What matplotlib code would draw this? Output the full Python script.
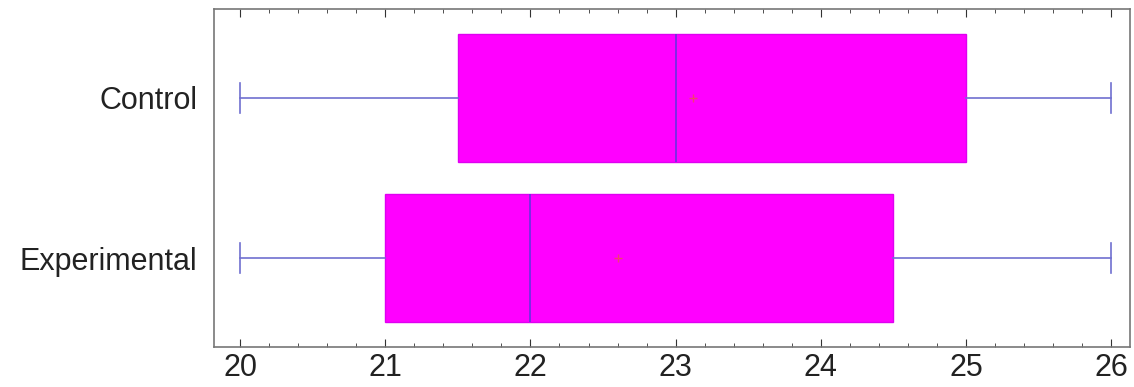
import matplotlib

matplotlib.use("Agg")
import matplotlib.pyplot as plt
from matplotlib.ticker import MultipleLocator

# summary stats
groups = ["Experimental", "Control"]
mins = [20.0, 20.0]
q1s = [21.0, 21.5]
medians = [22.0, 23.0]
q3s = [24.5, 25.0]
maxs = [26.0, 26.0]
means = [22.6, 23.12]

stats = [
    {"label": g, "whislo": lo, "q1": a, "med": m, "q3": b, "whishi": hi, "mean": mu}
    for g, lo, a, m, b, hi, mu in zip(groups, mins, q1s, medians, q3s, maxs, means)
]

plt.rcParams["font.family"] = ["Liberation Sans", "DejaVu Sans"]

fig = plt.figure(figsize=(11.34, 3.87), dpi=100)
ax = fig.add_axes([0.1887, 0.1034, 0.8078, 0.8733])

ax.bxp(
    stats,
    positions=[1, 2],
    widths=0.8,
    capwidths=0.19,
    vert=False,
    patch_artist=True,
    showmeans=True,
    showfliers=False,
    boxprops=dict(facecolor="#ff00ff", edgecolor="#e000f0", linewidth=1.0),
    medianprops=dict(color="#6a2fe0", linewidth=1.2),
    whiskerprops=dict(color="#7070d0", linewidth=1.2),
    capprops=dict(color="#7070d0", linewidth=1.2),
    meanprops=dict(marker="+", markeredgecolor="#f04070", markersize=6, markeredgewidth=1.0),
)

ax.set_xlim(19.82, 26.13)
ax.set_ylim(0.444, 2.556)
ax.set_yticks([1, 2])
ax.set_yticklabels(groups)
ax.xaxis.set_major_locator(MultipleLocator(1))
ax.xaxis.set_minor_locator(MultipleLocator(0.2))
ax.tick_params(axis="x", which="both", direction="in", top=True, labelsize=22, colors="#333333", pad=4)
ax.tick_params(axis="x", which="major", length=6)
ax.tick_params(axis="x", which="minor", length=3)
ax.tick_params(axis="y", length=0, labelsize=22, pad=12)
for label in ax.get_xticklabels() + ax.get_yticklabels():
    label.set_color("#222222")
for spine in ax.spines.values():
    spine.set_color("#777777")
    spine.set_linewidth(1.2)

fig.savefig("out.png", dpi=100)
